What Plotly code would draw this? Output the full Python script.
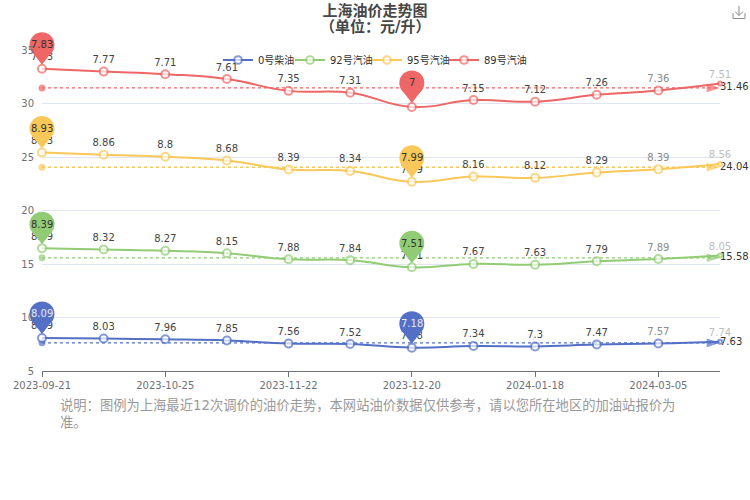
import numpy as np
import plotly.graph_objects as go

dates = ["2023-09-21", "2023-10-11", "2023-10-25", "2023-11-08", "2023-11-22", "2023-12-06",
         "2023-12-20", "2024-01-03", "2024-01-18", "2024-02-02", "2024-03-05", "2024-03-19"]
tick_dates = ["2023-09-21", "2023-10-25", "2023-11-22", "2023-12-20", "2024-01-18", "2024-03-05"]

diesel0 = [8.09, 8.03, 7.96, 7.85, 7.56, 7.52, 7.18, 7.34, 7.30, 7.47, 7.57, 7.74]
gas92 = [8.39, 8.32, 8.27, 8.15, 7.88, 7.84, 7.51, 7.67, 7.63, 7.79, 7.89, 8.05]
gas95 = [8.93, 8.86, 8.80, 8.68, 8.39, 8.34, 7.99, 8.16, 8.12, 8.29, 8.39, 8.56]
gas89 = [7.83, 7.77, 7.71, 7.61, 7.35, 7.31, 7.00, 7.15, 7.12, 7.26, 7.36, 7.51]

names = ["0号柴油", "92号汽油", "95号汽油", "89号汽油"]
colors = ["#5470C6", "#91CC75", "#FAC858", "#EE6666"]
pin_text = ["#E8EAF6", "#333333", "#333333", "#333333"]
mean_stacked = [7.63, 15.58, 24.04, 31.46]
series = [diesel0, gas92, gas95, gas89]

title_1 = "上海油价走势图"
title_2 = "\uff08单位\uff1a元/升\uff09"
note = ("说明\uff1a图例为上海最近12次调价的油价走势\uff0c本网站油价数据仅供参考\uff0c"
        "请以您所在地区的加油站报价为<br>准。")

FONT = "DejaVu Sans, Noto Sans CJK SC, sans-serif"
W, H = 750, 500
M_L, M_T = 42, 50
PW, PH = 678, 321.5
M_R, M_B = W - M_L - PW, H - M_T - PH
legend_left = [218, 290, 367, 444]


def px(x):
    return (x - M_L) / PW


def py(y):
    return 1 - (y - M_T) / PH


fig = go.Figure()
stacked = np.cumsum(np.array(series), axis=0)
n = len(dates)
label_colors = ["#444444"] * (n - 2) + ["#8A8A8A", "#BDBDBD"]

# mean lines
for i, m in enumerate(mean_stacked):
    fig.add_trace(go.Scatter(
        x=[dates[0], dates[-1]], y=[m, m], mode="lines+markers",
        line=dict(color=colors[i], width=1.3, dash="3px,3px"),
        marker=dict(color=colors[i], symbol=["circle", "arrow"], size=[7, 14],
                    angle=[0, 90], line=dict(width=0)),
        cliponaxis=False, showlegend=False, hoverinfo="skip"))
    fig.add_trace(go.Scatter(
        x=[dates[-1]], y=[m], mode="text", text=[f"{m:.2f}"], textposition="middle right",
        textfont=dict(size=10, color="#333333", family=FONT),
        cliponaxis=False, showlegend=False, hoverinfo="skip"))

# series
for i, name in enumerate(names):
    fig.add_trace(go.Scatter(
        x=dates, y=stacked[i], name=name, mode="lines+markers+text",
        legend="legend" if i == 0 else f"legend{i + 1}",
        line=dict(color=colors[i], width=2, shape="spline", smoothing=1.3),
        marker=dict(color="white", size=[8] * (n - 1) + [4],
                    line=dict(color=colors[i], width=2)),
        text=[f"{v:g}" for v in series[i]], textposition="top center",
        textfont=dict(size=10, color=label_colors, family=FONT),
        cliponaxis=False))

# pins at the highest and lowest value of each series
for i in range(4):
    idx = [int(np.argmax(series[i])), int(np.argmin(series[i]))]
    xs = [dates[j] for j in idx]
    ys = [stacked[i][j] for j in idx]
    fig.add_trace(go.Scatter(
        x=xs, y=ys, mode="markers", showlegend=False, hoverinfo="skip", cliponaxis=False,
        marker=dict(symbol="triangle-up", angle=180, size=18, color=colors[i], standoff=13,
                    line=dict(width=0))))
    fig.add_trace(go.Scatter(
        x=xs, y=ys, mode="markers", showlegend=False, hoverinfo="skip", cliponaxis=False,
        marker=dict(symbol="circle", angle=180, size=25, color=colors[i], standoff=24,
                    line=dict(width=0))))
    for j in idx:
        fig.add_annotation(x=dates[j], y=stacked[i][j], text=f"{series[i][j]:g}", showarrow=False,
                           yshift=24, font=dict(size=10, color=pin_text[i], family=FONT))

fig.add_annotation(xref="paper", yref="paper", x=px(375), y=py(26.5), text=title_2, showarrow=False,
                   xanchor="center", yanchor="middle",
                   font=dict(size=15, color="#464646", family=FONT, weight="bold"))
fig.add_annotation(xref="paper", yref="paper", x=px(58), y=py(414.5), text=note,
                   showarrow=False, xanchor="left", yanchor="middle", align="left",
                   font=dict(size=13.3, color="#999999", family=FONT))

# save-image icon of the toolbox
icon = "M 733 13 L 733 18.5 L 745 18.5 L 745 13 M 739 6 L 739 15.5 M 735 11.5 L 739 15.5 L 743 11.5"
parts = icon.split()
out, k = [], 0
while k < len(parts):
    if parts[k] in "ML":
        out.append(f"{parts[k]} {px(float(parts[k + 1])):.5f},{py(float(parts[k + 2])):.5f}")
        k += 3
fig.add_shape(type="path", xref="paper", yref="paper", path=" ".join(out),
              line=dict(color="#8C8C8C", width=1))

legends = {}
for i, left in enumerate(legend_left):
    key = "legend" if i == 0 else f"legend{i + 1}"
    legends[key] = dict(orientation="h", x=px(left), y=py(60), xanchor="left", yanchor="middle",
                        bgcolor="rgba(0,0,0,0)", font=dict(size=10, color="#333333", family=FONT),
                        itemwidth=30)

fig.update_layout(
    width=W, height=H, autosize=False,
    margin=dict(l=M_L, r=M_R, t=M_T, b=M_B, pad=0),
    paper_bgcolor="white", plot_bgcolor="white",
    font=dict(family=FONT),
    title=dict(text=title_1, x=px(375), xref="paper", xanchor="center", y=1 - 11 / H,
               yanchor="middle",
               font=dict(size=15, color="#464646", family=FONT, weight="bold")),
    xaxis=dict(type="category", categoryorder="array", categoryarray=dates, range=[0, n - 1],
               tickmode="array", tickvals=tick_dates, ticktext=tick_dates, automargin=False,
               showgrid=False, zeroline=False, showline=True, linecolor="#6E7079", linewidth=1,
               ticks="outside", ticklen=5, tickcolor="#6E7079",
               tickfont=dict(size=10, color="#6E7079", family=FONT)),
    yaxis=dict(range=[5, 35], tickmode="array", tickvals=[5, 10, 15, 20, 25, 30, 35],
               showgrid=True, gridcolor="#E0E6F1", gridwidth=1, zeroline=False, showline=False,
               ticks="", ticklabelstandoff=7, automargin=False,
               tickfont=dict(size=10, color="#6E7079", family=FONT)),
    **legends,
)

fig.write_html("out.html", config={"displayModeBar": False},
               post_script="document.body.style.margin='0';")
